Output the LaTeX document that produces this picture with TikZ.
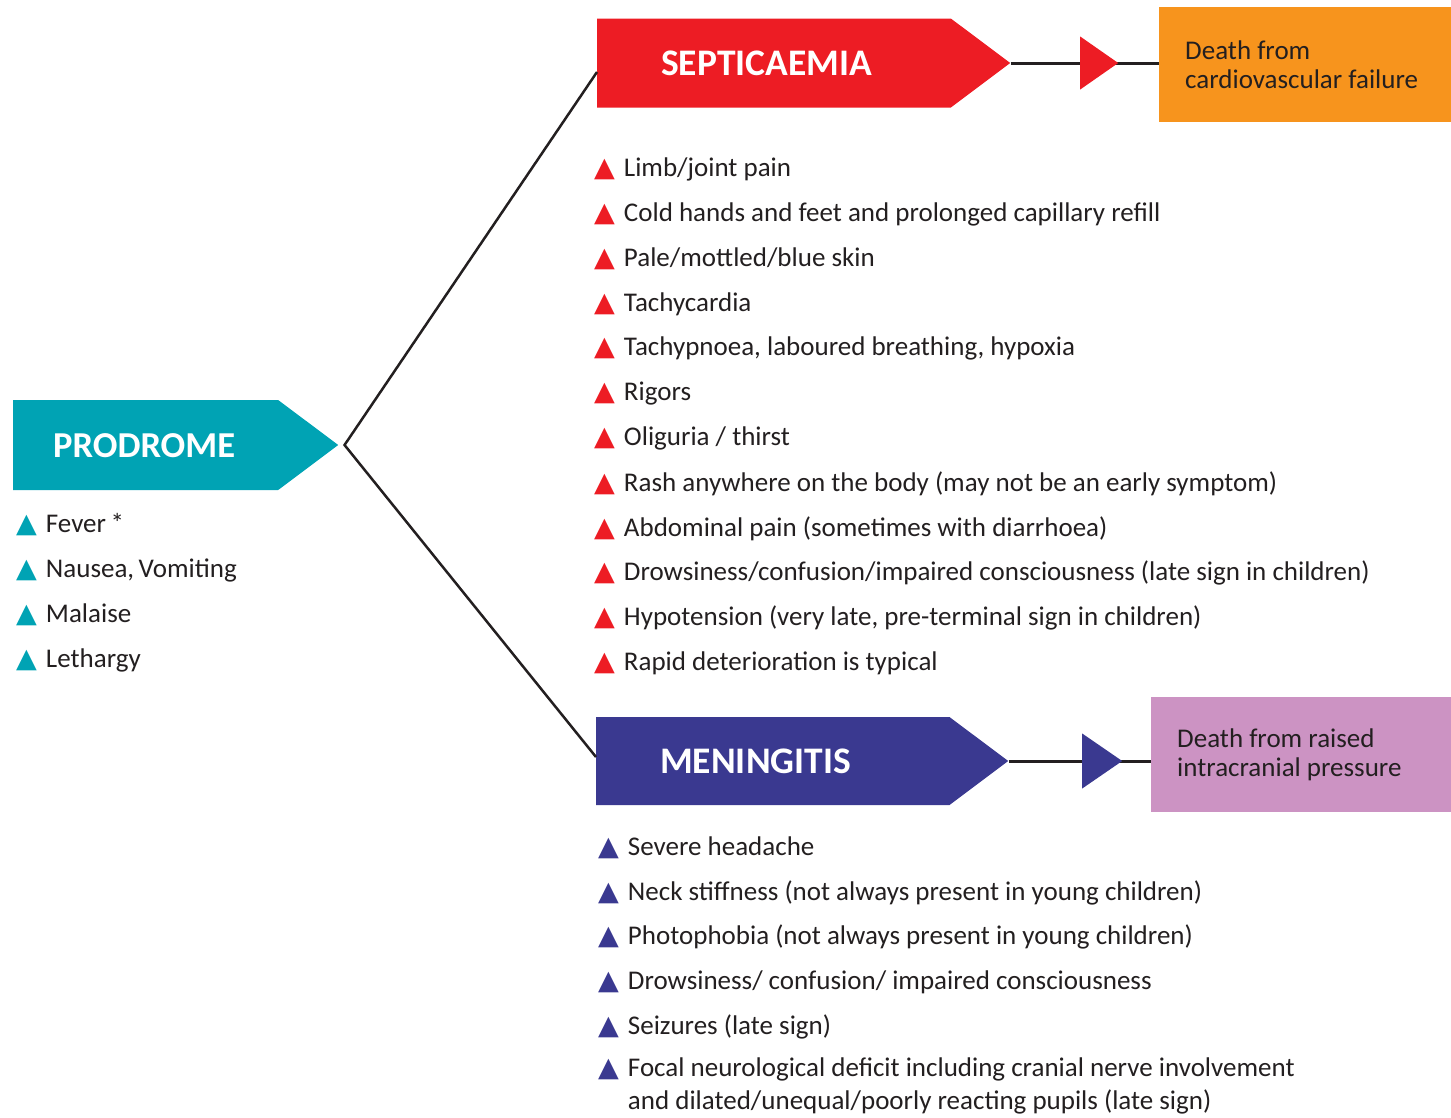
\documentclass[tikz,border=0pt]{standalone}
\usepackage{fontspec}
\setmainfont{Carlito}
\newfontfamily\symfont{DejaVu Sans}
\usetikzlibrary{shapes.symbols,shapes.geometric}

\definecolor{prodteal}{HTML}{00A3B4}
\definecolor{sepred}{HTML}{ED1C24}
\definecolor{menblue}{HTML}{3A3990}
\definecolor{deathorange}{HTML}{F7941D}
\definecolor{deathpink}{HTML}{CC93C3}
\definecolor{txtgray}{HTML}{231F20}

\newcommand{\tri}[1]{{\symfont\fontsize{27}{27}\selectfont\textcolor{#1}{▲}}\hspace{9pt}}

\tikzset{>=latex}

\begin{document}
\begin{tikzpicture}[x=1pt,y=-1pt]
	\tikzstyle{stage} = [signal, signal to=east, signal from=nowhere, signal pointer angle=73.7, inner sep=0, anchor=west]
	\tikzstyle{heading} = [anchor=base west, inner sep=0, text=white, font=\fontsize{37.5}{37.5}\selectfont\bfseries]
	\tikzstyle{symptom} = [anchor=base west, inner sep=0, text=txtgray, font=\fontsize{27}{27}\selectfont]
	\tikzstyle{outcome} = [rectangle, anchor=north west, minimum height=115, inner xsep=26, inner ysep=0, align=flush left, text=txtgray, font=\fontsize{27}{29}\selectfont]
	\tikzstyle{fork} = [line width=2.5, txtgray]
	\tikzstyle{link} = [line width=3, txtgray]
	\tikzstyle{pointer} = [isosceles triangle, isosceles triangle stretches, inner sep=0, minimum width=53, minimum height=38, anchor=lower side]

	\useasboundingbox (0,0) rectangle (1451,1117);

%----------Prodrome------------------------------------------
	\node[stage, fill=prodteal, minimum width=325, minimum height=90] (prod) at (13,445) {};
	\node[heading, font=\fontsize{36.5}{36.5}\selectfont\bfseries] (prodtitle) at (53,457) {PRODROME};

	\node[symptom] (p1) at (16,532) {\tri{prodteal}Fever\,*};
	\node[symptom] (p2) at (16,577) {\tri{prodteal}Nausea,\,Vomiting};
	\node[symptom] (p3) at (16,622) {\tri{prodteal}Malaise};
	\node[symptom] (p4) at (16,667) {\tri{prodteal}Lethargy};

	\coordinate (fork) at ([xshift=6]prod.east);

%----------Septicaemia---------------------------------------
	\node[stage, fill=sepred, minimum width=413, minimum height=89] (sep) at (597,63) {};
	\node[heading] (septitle) at (661,75) {SEPTICAEMIA};

	\node[outcome, fill=deathorange, minimum width=292, text width=240] (sepdeath) at (1159,7) {Death from\\cardiovascular failure};

	\draw[link] (sep.east) -- (sep.east -| sepdeath.west);
	\node[pointer, fill=sepred] (sepptr) at (1080,63) {};

	\node[symptom] (s1) at (594,176) {\tri{sepred}Limb/joint pain};
	\node[symptom] (s2) at (594,221) {\tri{sepred}Cold hands and feet and prolonged capillary refill};
	\node[symptom] (s3) at (594,266) {\tri{sepred}Pale/mottled/blue skin};
	\node[symptom] (s4) at (594,311) {\tri{sepred}Tachycardia};
	\node[symptom] (s5) at (594,355) {\tri{sepred}Tachypnoea, laboured breathing, hypoxia};
	\node[symptom] (s6) at (594,400) {\tri{sepred}Rigors};
	\node[symptom] (s7) at (594,445) {\tri{sepred}Oliguria / thirst};
	\node[symptom] (s8) at (594,491) {\tri{sepred}Rash anywhere on the body (may not be an early symptom)};
	\node[symptom] (s9) at (594,536) {\tri{sepred}Abdominal pain (sometimes with diarrhoea)};
	\node[symptom] (s10) at (594,580) {\tri{sepred}Drowsiness/confusion/impaired consciousness (late sign in children)};
	\node[symptom] (s11) at (594,625) {\tri{sepred}Hypotension (very late, pre-terminal sign in children)};
	\node[symptom] (s12) at (594,670) {\tri{sepred}Rapid deterioration is typical};

%----------Meningitis----------------------------------------
	\node[stage, fill=menblue, minimum width=412, minimum height=88] (men) at (596,761) {};
	\node[heading] (mentitle) at (660,773) {MENINGITIS};

	\node[outcome, fill=deathpink, minimum width=300, text width=248] (mendeath) at (1151,697) {Death from raised\\intracranial pressure};

	\draw[link] (men.east) -- (men.east -| mendeath.west);
	\node[pointer, fill=menblue, minimum width=55, minimum height=40] (menptr) at (1082,761) {};

	\node[symptom] (m1) at (598,855) {\tri{menblue}Severe headache};
	\node[symptom] (m2) at (598,900) {\tri{menblue}Neck stiffness (not always present in young children)};
	\node[symptom] (m3) at (598,944) {\tri{menblue}Photophobia (not always present in young children)};
	\node[symptom] (m4) at (598,989) {\tri{menblue}Drowsiness/ confusion/ impaired consciousness};
	\node[symptom] (m5) at (598,1034) {\tri{menblue}Seizures (late sign)};
	\node[symptom, align=left, font=\fontsize{27}{33}\selectfont] (m6) at (598,1109) {\tri{menblue}Focal neurological deficit including cranial nerve involvement\\\phantom{\tri{menblue}}and dilated/unequal/poorly reacting pupils (late sign)};

%----------Forks---------------------------------------------
	\draw[fork] ([yshift=-9]sep.west) -- (fork) -- ([yshift=4]men.west);

\end{tikzpicture}
\end{document}
